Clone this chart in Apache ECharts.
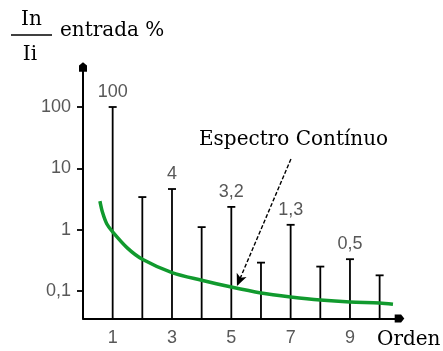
<!DOCTYPE html>
<html>
<head>
<meta charset="utf-8">
<script src="https://cdn.jsdelivr.net/npm/echarts@6/dist/echarts.min.js"></script>
<style>html,body{margin:0;padding:0;background:#fff;}#c{width:443px;height:351px;}</style>
</head>
<body>
<div id="c"></div>
<script>
// ---- data ----
const orders = [1, 2, 3, 4, 5, 6, 7, 8, 9, 10];
const harmonicValues = [100, 3.4, 4.6, 1.1, 2.35, 0.29, 1.2, 0.25, 0.33, 0.18];
const harmonicLabels = ['100', '', '4', '', '3,2', '', '1,3', '', '0,5', ''];
const curveOrders = [0.57, 0.66, 0.8, 1, 1.5, 2, 3, 4, 5, 6, 7, 8, 9, 10, 10.45];
const curveValues = [2.93, 1.9, 1.25, 0.92, 0.5, 0.33, 0.2, 0.15, 0.116, 0.093, 0.08, 0.071, 0.066, 0.064, 0.061];
const yTickValues = [0.1, 1, 10, 100];
const yTickLabels = ['0,1', '1', '10', '100'];
const xTickValues = [1, 3, 5, 7, 9];
const arrowFrom = [7.01, 14.2];
const arrowTo = [5.19, 0.121];

const Y_MIN = 0.0356, Y_MAX = 449;
const serif = '"DejaVu Serif", serif';
const sans = '"Liberation Sans", Arial, sans-serif';
const grey = '#585858';
const arrowPath = 'path://M5,0 L10,4 L10,12 L0,12 L0,4 Z';

const chart = echarts.init(document.getElementById('c'));
chart.setOption({
  animation: false,
  backgroundColor: '#fff',
  grid: { left: 83, right: 43.5, top: 67, bottom: 32.5, containLabel: false },
  xAxis: {
    type: 'value', min: 0, max: 10.67,
    axisLine: { show: true, lineStyle: { color: '#000', width: 2 }, symbol: ['none', arrowPath], symbolSize: [8, 11] },
    axisTick: { show: false },
    splitLine: { show: false },
    axisLabel: { customValues: xTickValues, color: grey, fontFamily: sans, fontSize: 18, margin: 11 }
  },
  yAxis: {
    type: 'log', logBase: 10, min: Y_MIN, max: Y_MAX,
    axisLine: { show: true, lineStyle: { color: '#000', width: 2 }, symbol: ['none', arrowPath], symbolSize: [8, 11] },
    axisTick: { show: true, customValues: yTickValues, length: 6, lineStyle: { color: '#000', width: 1.8 } },
    minorTick: { show: false },
    splitLine: { show: false },
    axisLabel: {
      customValues: yTickValues, color: grey, fontFamily: sans, fontSize: 18, margin: 12,
      formatter: function (v) {
        for (let i = 0; i < yTickValues.length; i++) {
          if (Math.abs(Math.log10(v) - Math.log10(yTickValues[i])) < 1e-6) return yTickLabels[i];
        }
        return '';
      }
    }
  },
  series: [
    {
      type: 'custom',
      z: 2,
      data: orders.map((o, i) => [o, harmonicValues[i], i]),
      renderItem: function (params, api) {
        const x = api.value(0), v = api.value(1), idx = api.value(2);
        const top = api.coord([x, v]);
        const base = api.coord([x, Y_MIN]);
        const children = [
          { type: 'line', shape: { x1: top[0], y1: top[1], x2: base[0], y2: base[1] }, style: { stroke: '#000', lineWidth: 1.8 } },
          { type: 'line', shape: { x1: top[0] - 4, y1: top[1], x2: top[0] + 4, y2: top[1] }, style: { stroke: '#000', lineWidth: 1.8 } }
        ];
        const lab = harmonicLabels[idx];
        if (lab) {
          children.push({ type: 'text', style: { text: lab, x: top[0], y: top[1] - 15, align: 'center', verticalAlign: 'middle', font: '18px ' + sans, fill: grey } });
        }
        return { type: 'group', children: children };
      }
    },
    {
      type: 'line',
      z: 3,
      smooth: 0.3,
      showSymbol: false,
      data: curveOrders.map((o, i) => [o, curveValues[i]]),
      lineStyle: { color: '#119a2e', width: 3.5 },
      markLine: {
        silent: true,
        symbol: ['none', 'arrow'],
        symbolSize: [8, 12],
        label: { show: false },
        lineStyle: { type: [4, 2], color: '#000', width: 1.4 },
        data: [[{ coord: arrowFrom }, { coord: arrowTo }]]
      }
    }
  ],
  graphic: [
    { type: 'text', style: { text: 'In', x: 31.5, y: 20, align: 'center', verticalAlign: 'middle', font: '20px ' + serif, fill: '#000' } },
    { type: 'line', shape: { x1: 11, y1: 35, x2: 52, y2: 35 }, style: { stroke: '#000', lineWidth: 1.5 } },
    { type: 'text', style: { text: 'Ii', x: 30, y: 55, align: 'center', verticalAlign: 'middle', font: '20px ' + serif, fill: '#000' } },
    { type: 'text', style: { text: 'entrada %', x: 60, y: 31, align: 'left', verticalAlign: 'middle', font: '20px ' + serif, fill: '#000' } },
    { type: 'text', style: { text: 'Espectro Contínuo', x: 199, y: 139.5, align: 'left', verticalAlign: 'middle', font: '20px ' + serif, fill: '#000' } },
    { type: 'text', style: { text: 'Orden', x: 377, y: 340, align: 'left', verticalAlign: 'middle', font: '20px ' + serif, fill: '#000' } }
  ]
});
</script>
</body>
</html>
